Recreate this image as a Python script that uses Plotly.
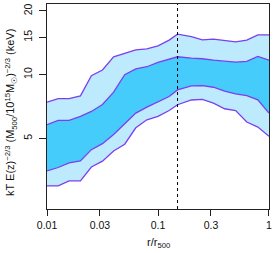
import numpy as np
import plotly.graph_objects as go

# radius grid r/r500 (log-spaced bins)
r = [0.01, 0.0126, 0.0158, 0.02, 0.0251, 0.0316, 0.0398, 0.0501, 0.0631, 0.0794,
     0.1, 0.126, 0.15, 0.2, 0.251, 0.316, 0.398, 0.501, 0.631, 0.794, 1.0]

outer_upper = [7.41, 7.71, 7.71, 7.94, 9.89, 10.52, 12.15, 12.62, 13.11, 13.25,
               13.69, 14.56, 15.54, 15.12, 14.61, 14.72, 14.56, 14.30, 14.56, 15.43, 15.43]
inner_upper = [5.80, 6.08, 6.08, 6.35, 6.70, 7.23, 8.26, 10.0, 10.64, 10.90,
               11.43, 11.85, 12.15, 11.96, 11.89, 11.72, 11.55, 11.47, 11.55, 12.19, 11.72]
inner_lower = [3.51, 3.64, 3.83, 3.91, 4.42, 4.72, 5.22, 5.85, 6.58, 7.02,
               7.46, 7.88, 8.47, 8.86, 8.88, 8.72, 8.35, 8.11, 7.96, 7.60, 6.58]
outer_lower = [2.98, 2.98, 3.15, 3.15, 3.66, 3.90, 4.36, 4.69, 5.61, 6.12,
               6.35, 6.77, 7.21, 7.59, 7.64, 7.33, 6.90, 6.77, 5.97, 5.65, 5.11]

x_ticks = [0.01, 0.03, 0.1, 0.3, 1]
x_ticklabels = ["0.01", "0.03", "0.1", "0.3", "1"]
y_ticks = [5, 10, 15, 20]
y_ticklabels = ["5", "10", "15", "20"]
r_core = 0.15

LIGHT = "#BDEBFD"
DARK = "#45CCFA"
LINE = "#7B3FF0"

fig = go.Figure()

def band(lo, hi, color):
    fig.add_trace(go.Scatter(x=list(r) + list(r[::-1]), y=list(hi) + list(lo[::-1]),
                             fill="toself", fillcolor=color, mode="none",
                             hoverinfo="skip", showlegend=False))

band(outer_lower, outer_upper, LIGHT)
band(inner_lower, inner_upper, DARK)
for series in (outer_upper, inner_upper, inner_lower, outer_lower):
    fig.add_trace(go.Scatter(x=r, y=series, mode="lines",
                             line=dict(color=LINE, width=1.3), showlegend=False))

fig.add_shape(type="line", x0=r_core, x1=r_core, y0=0, y1=1, xref="x", yref="paper",
              line=dict(color="black", width=1, dash="3px,3px"))

font = dict(family="Liberation Sans, Arial, sans-serif", size=10.5, color="#111")
tfont = dict(family="Liberation Sans, Arial, sans-serif", size=11, color="#111")

fig.update_layout(
    width=275, height=253,
    margin=dict(l=47, r=3, t=3, b=44),
    paper_bgcolor="white", plot_bgcolor="white",
    font=font,
    showlegend=False,
    xaxis=dict(type="log", range=[-2.0003, 0.0003], tickvals=x_ticks, ticktext=x_ticklabels,
               showgrid=False, zeroline=False, showline=True, linecolor="#222",
               linewidth=1, mirror=True, ticks="outside", ticklen=6, tickcolor="#222",
               tickfont=font, ticklabeloverflow="allow"),
    yaxis=dict(type="log", range=[0.365, 1.334], tickvals=y_ticks, ticktext=y_ticklabels,
               showgrid=False, zeroline=False, showline=True, linecolor="#222",
               linewidth=1, mirror=True, ticks="outside", ticklen=7, tickcolor="#222",
               tickangle=-90, tickfont=font, ticklabelstandoff=3),
    annotations=[
        dict(text="r/r<sub>500</sub>", xref="paper", yref="paper", x=0.5, y=-0.12,
             xanchor="center", yanchor="top", showarrow=False, font=tfont),
        dict(text="kT E(z)<sup>−2/3</sup> (M<sub>500</sub>/10<sup>15</sup>M<sub>☉</sub>)<sup>−2/3</sup> (keV)",
             xref="paper", yref="paper", x=-0.165, y=0.47, xanchor="center", yanchor="middle",
             textangle=-90, showarrow=False, font=tfont),
    ],
)

fig.write_html("out.html", config={"displayModeBar": False},
               post_script="document.body.style.margin='0';document.body.style.overflow='hidden';")
